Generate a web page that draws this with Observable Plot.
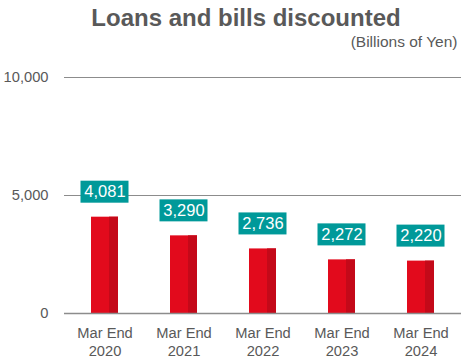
<!DOCTYPE html>
<html>
<head>
<meta charset="utf-8">
<script src="https://cdn.jsdelivr.net/npm/d3@7"></script>
<script src="https://cdn.jsdelivr.net/npm/@observablehq/plot@0.6"></script>
<style>
  html, body { margin: 0; padding: 0; background: #fff; }
  #wrap { position: relative; width: 471px; height: 362px; font-family: "Liberation Sans", Arial, sans-serif; color: #595959; }
  #title { position: absolute; left: 21px; width: 450px; top: 6.4px; text-align: center; font-weight: bold; font-size: 24px; line-height: 24px; white-space: nowrap; }
  #subtitle { position: absolute; right: 13.5px; top: 33.6px; font-size: 15.5px; line-height: 15.5px; white-space: nowrap; }
  #chart { position: absolute; left: 0; top: 55px; }
</style>
</head>
<body>
<div id="wrap">
  <div id="title">Loans and bills discounted</div>
  <div id="subtitle">(Billions of Yen)</div>
  <div id="chart"></div>
</div>
<script>
const years = ["2020", "2021", "2022", "2023", "2024"];
const values = [4081, 3290, 2736, 2272, 2220];
const yTicks = [0, 5000, 10000];
const xPrefix = "Mar End";

const data = years.map((year, i) => ({year, value: values[i]}));
const fmt = d3.format(",");

const chart = Plot.plot({
  width: 471,
  height: 307,
  marginLeft: 64,
  marginRight: 10,
  marginTop: 22,
  marginBottom: 49,
  style: {fontFamily: "'Liberation Sans', Arial, sans-serif", fontSize: "14.7px", color: "#595959", background: "white"},
  x: {domain: years, paddingInner: 0.66, paddingOuter: 0.33, label: null},
  y: {domain: [0, 10000], label: null},
  marks: [
    Plot.ruleY(yTicks.filter(t => t > 0), {stroke: "#8c8c8c", strokeWidth: 1}),
    Plot.barY(data, {x: "year", y: "value", fill: "#E20A1C"}),
    Plot.barY(data, {x: "year", y: "value", fill: "#C40919", insetLeft: 18}),
    Plot.ruleY([0], {stroke: "#8c8c8c", strokeWidth: 1.5}),
    Plot.axisY({ticks: yTicks, tickFormat: fmt, tickSize: 0, tickPadding: 16, fontSize: 14.7, fill: "#595959", label: null}),
    Plot.axisX({tickSize: 0, tickPadding: 12, tickFormat: d => `${xPrefix}\n${d}`, lineHeight: 1.2, fontSize: 14.7, fill: "#595959", label: null}),
    Plot.barY(data, {x: "year", y1: "value", y2: "value", insetTop: -22, insetLeft: -10.5, insetRight: -10.5, dy: -14, fill: "#009999"}),
    Plot.text(data, {x: "year", y: "value", text: d => fmt(d.value), dy: -25, fill: "white", fontSize: 16.5})
  ]
});
document.getElementById("chart").appendChild(chart);
</script>
</body>
</html>
